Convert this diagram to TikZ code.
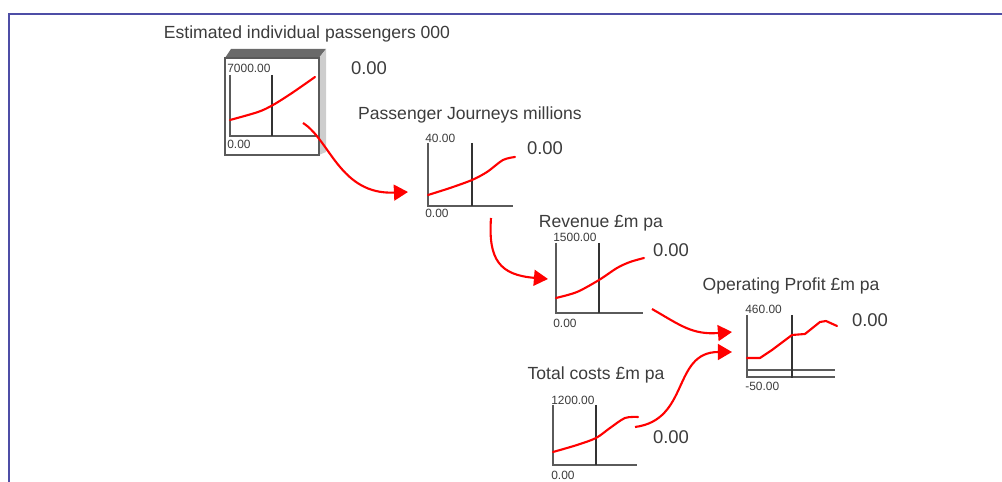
\documentclass[tikz,border=0pt]{standalone}
\usepackage{fontspec}
\setmainfont{Liberation Sans}
\usepackage{xcolor}
\usetikzlibrary{
arrows.meta
}
\definecolor{FrameBlue}{HTML}{4E4EA6}
\definecolor{TextGray}{HTML}{3C3C3C}
\definecolor{AxisGray}{HTML}{5A5A5A}
\definecolor{BevelDark}{HTML}{6A6A6A}
\definecolor{BevelLight}{HTML}{CDCDCD}

\begin{document}
\begin{tikzpicture}[
    x=0.02cm,
    y=-0.02cm,
    title/.style={font=\fontsize{10}{12}\selectfont, text=TextGray, inner sep=0pt},
    value/.style={font=\fontsize{10.5}{12}\selectfont, text=TextGray, inner sep=0pt},
    scalelab/.style={font=\fontsize{6.8}{8}\selectfont, text=TextGray, inner sep=0pt, anchor=west},
    axis/.style={draw=AxisGray, line width=0.8pt},
    cursor/.style={draw=black!80, line width=0.6pt},
    trend/.style={draw=red, line width=1.2pt, line join=round, line cap=round},
    flow/.style={draw=red, line width=1.2pt, -{Triangle[length=8pt,width=9pt]}}
]

\useasboundingbox (0,0) rectangle (1002,482);

% =====================================================
% WINDOW FRAME
% =====================================================
\draw[
    FrameBlue,
    line width=1.6pt
]
(9,482) -- (9,14) -- (1002,14);

% =====================================================
% SELECTED GRAPH (3D BOX)
% =====================================================
\fill[BevelDark] (225,58) -- (231,49) -- (326,49) -- (319,58) -- cycle;
\fill[BevelLight] (319,58) -- (326,49) -- (326,152) -- (319,155) -- cycle;
\draw[AxisGray, line width=1pt] (225,58) rectangle (319,155);

% =====================================================
% AXES AND CURSORS
% =====================================================
\foreach \n/\ax/\ty/\by/\rx/\cx in {
ep/230/75/136/317/272,
pj/428/143/206/513/472,
rv/556/243/313/643/599,
tc/553/405/465/637/596
}{
    \draw[axis] (\ax,\ty) -- (\ax,\by) -- (\rx,\by);
    \draw[cursor] (\cx,\ty) -- (\cx,\by);
}

% profit graph has a zero line
\draw[axis] (747,315) -- (747,378);
\draw[axis] (747,370) -- (835,370);
\draw[axis] (747,377) -- (835,377);
\draw[cursor] (792,315) -- (792,378);

% =====================================================
% TITLES
% =====================================================
\node[title] (ep-title) at (307,34) {Estimated individual passengers 000};
\node[title] (pj-title) at (470,115) {Passenger Journeys millions};
\node[title] (rv-title) at (601,223) {Revenue £m pa};
\node[title] (op-title) at (791,286) {Operating Profit £m pa};
\node[title] (tc-title) at (596,375) {Total costs £m pa};

% =====================================================
% SCALE LABELS
% =====================================================
\node[scalelab] (ep-max) at (227,68) {7000.00};
\node[scalelab] (ep-min) at (227,144) {0.00};
\node[scalelab] (pj-max) at (425,138) {40.00};
\node[scalelab] (pj-min) at (425,213) {0.00};
\node[scalelab] (rv-max) at (553,237) {1500.00};
\node[scalelab] (rv-min) at (553,323) {0.00};
\node[scalelab] (op-max) at (745,309) {460.00};
\node[scalelab] (op-min) at (745,386) {-50.00};
\node[scalelab] (tc-max) at (551,400) {1200.00};
\node[scalelab] (tc-min) at (551,475) {0.00};

% =====================================================
% CURRENT VALUES
% =====================================================
\node[value] (ep-val) at (369,68) {0.00};
\node[value] (pj-val) at (545,148) {0.00};
\node[value] (rv-val) at (671,250) {0.00};
\node[value] (op-val) at (870,320) {0.00};
\node[value] (tc-val) at (671,437) {0.00};

% =====================================================
% TRENDS
% =====================================================
\draw[trend] plot[smooth] coordinates {(230,120) (258,112) (273,105) (292,93) (315,77)};
\draw[trend] plot[smooth] coordinates {(428,195) (450,188) (472,180) (487,172) (503,160) (515,157)};
\draw[trend] plot[smooth] coordinates {(556,298) (577,292) (599,280) (617,268) (630,262) (644,258)};
\draw[trend] plot[smooth] coordinates {(553,452) (577,445) (596,438) (610,428) (625,418) (638,417)};
\draw[trend] (747,358) -- (760,358) -- (772,350) -- (792,335) -- (805,334)
    -- (820,322) -- (826,321) -- (837,326);

% =====================================================
% LINKS
% =====================================================
\coordinate (ep-out) at (303,123);
\coordinate (pj-in) at (408,192);
\coordinate (pj-out) at (491,218);
\coordinate (rv-in) at (548,279);
\coordinate (rv-out) at (652,309);
\coordinate (op-in1) at (732,332);
\coordinate (tc-out) at (635,427);
\coordinate (op-in2) at (732,352);

\draw[flow] (ep-out) .. controls +(27,17) and +(-68,3) .. (pj-in);
\draw[flow] (pj-out) .. controls +(-3,42) and +(-48,-4) .. (rv-in);
\draw[flow] (rv-out) .. controls +(28,16) and +(-40,3) .. (op-in1);
\draw[flow] (tc-out) .. controls +(55,-7) and +(-60,0) .. (op-in2);

\end{tikzpicture}
\end{document}
